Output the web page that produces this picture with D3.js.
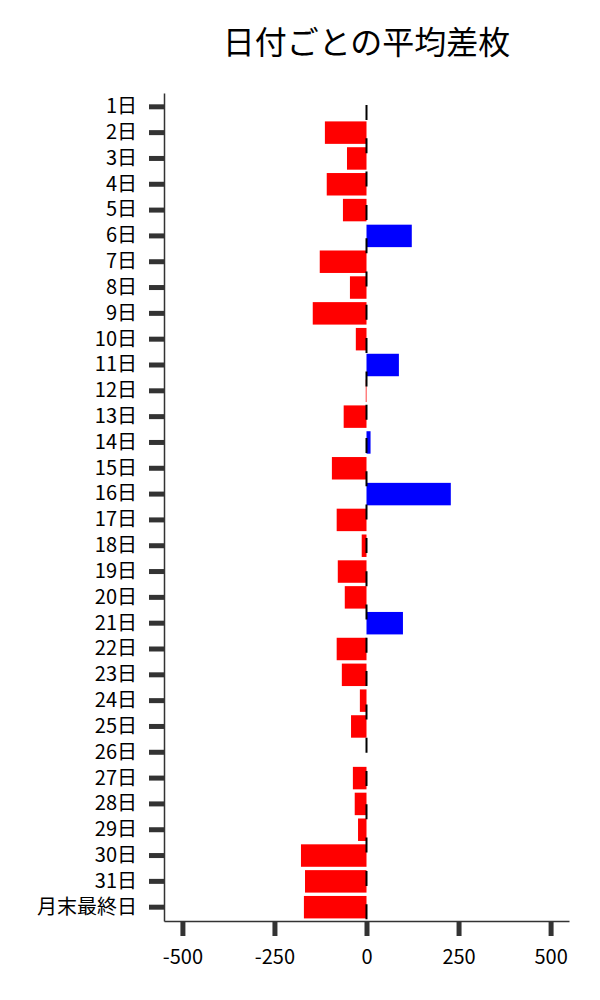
<!DOCTYPE html>
<html>
<head>
<meta charset="utf-8">
<script src="https://cdn.jsdelivr.net/npm/d3@7"></script>
<style>
  body { margin: 0; background: #fff; }
  text { font-family: "Noto Sans CJK JP", "Noto Sans", sans-serif; }
</style>
</head>
<body>
<script>
// データ
const days = ["1日","2日","3日","4日","5日","6日","7日","8日","9日","10日",
  "11日","12日","13日","14日","15日","16日","17日","18日","19日","20日",
  "21日","22日","23日","24日","25日","26日","27日","28日","29日","30日",
  "31日","月末最終日"];
const avgDiff = [0, -113, -53, -108, -64, 123, -127, -45, -146, -29,
  88, -2, -62, 11, -94, 229, -81, -13, -78, -59,
  99, -81, -67, -18, -42, 0, -37, -32, -23, -178,
  -167, -170];
const xTicks = [-500, -250, 0, 250, 500];

const W = 600, H = 1000;
const plotLeft = 164, plotRight = 569, plotTop = 93, plotBottom = 921;

const svg = d3.select("body").append("svg")
    .attr("width", W)
    .attr("height", H);

const x = d3.scaleLinear().domain([-550, 550]).range([plotLeft, plotRight]);
const y = d3.scaleBand().domain(days).range([plotTop, plotBottom])
    .paddingInner(0.13).paddingOuter(0.1);

// title
svg.append("text")
    .attr("x", (plotLeft + plotRight) / 2)
    .attr("y", 54)
    .attr("text-anchor", "middle")
    .style("font-size", "32px")
    .attr("fill", "#000")
    .text("日付ごとの平均差枚");

// bars
svg.append("g").selectAll("rect")
    .data(days)
    .enter()
    .append("rect")
        .attr("x", (d, i) => x(Math.min(0, avgDiff[i])))
        .attr("y", d => y(d))
        .attr("width", (d, i) => Math.abs(x(avgDiff[i]) - x(0)))
        .attr("height", y.bandwidth())
        .attr("fill", (d, i) => avgDiff[i] >= 0 ? "#0000ff" : "#ff0000");

// zero line
svg.append("line")
    .attr("x1", x(0)).attr("x2", x(0))
    .attr("y1", 105).attr("y2", plotBottom)
    .attr("stroke", "#000")
    .attr("stroke-width", 2)
    .attr("stroke-dasharray", "15,18.3");

// axes
const yAxis = svg.append("g")
    .attr("transform", `translate(${plotLeft},0)`)
    .call(d3.axisLeft(y).tickSize(15).tickSizeOuter(0).tickPadding(12));

const xAxis = svg.append("g")
    .attr("transform", `translate(0,${plotBottom})`)
    .call(d3.axisBottom(x).tickValues(xTicks).tickFormat(d3.format("d"))
        .tickSize(15).tickSizeOuter(0).tickPadding(14));

[yAxis, xAxis].forEach(g => {
    g.select(".domain").attr("stroke", "#333").attr("stroke-width", 1.5);
    g.selectAll(".tick line").attr("stroke", "#333").attr("stroke-width", 5);
    g.selectAll(".tick text")
        .attr("fill", "#000")
        .style("font-size", "20px")
        .style("font-family", '"Noto Sans CJK JP", sans-serif');
});
xAxis.selectAll(".tick text").text(d => d < 0 ? "-" + Math.abs(d) : d);
</script>
</body>
</html>
